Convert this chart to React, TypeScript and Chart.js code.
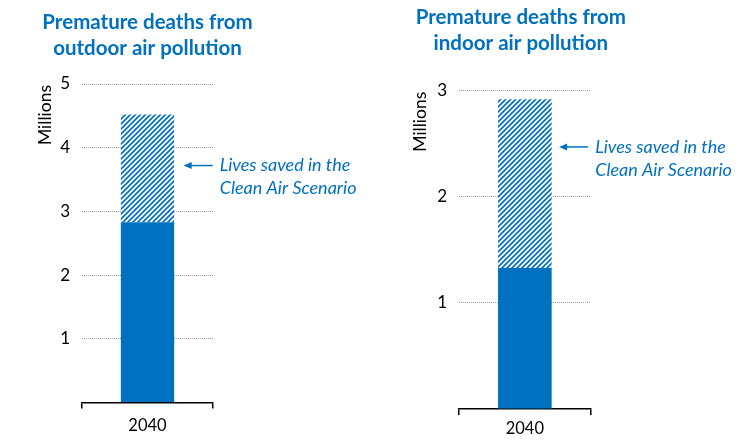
import React, { useEffect, useRef } from 'react';
import { Chart, registerables } from 'chart.js';

Chart.register(...registerables);

// ---- data ----
const categories = ['2040'];
const outdoorRemaining = [2.83];
const outdoorSaved = [1.69];
const indoorRemaining = [1.33];
const indoorSaved = [1.59];
const outdoorTitle = ['Premature deaths from', 'outdoor air pollution'];
const indoorTitle = ['Premature deaths from', 'indoor air pollution'];
const noteLines = ['Lives saved in the', 'Clean Air Scenario'];
const yAxisTitle = 'Millions';

const BLUE = '#0070C0';
const FONT = 'Lato, "Open Sans", sans-serif';

function makeHatch(): any {
  const c = document.createElement('canvas');
  c.width = 5;
  c.height = 5;
  const g = c.getContext('2d')!;
  g.fillStyle = '#ffffff';
  g.fillRect(0, 0, 5, 5);
  g.strokeStyle = BLUE;
  g.lineWidth = 1.7;
  g.beginPath();
  g.moveTo(-1, 6); g.lineTo(6, -1);
  g.moveTo(-1, 1); g.lineTo(1, -1);
  g.moveTo(4, 6); g.lineTo(6, 4);
  g.stroke();
  return g.createPattern(c, 'repeat');
}

type Panel = {
  title: string[];
  titleY: number[];
  titleDx: number;
  max: number;
  remaining: number[];
  saved: number[];
  noteValue: number;
  noteGap: number;
  millionsX: number;
  padding: { left: number; right: number; top: number; bottom: number };
  xPad: number;
};

const panels: Panel[] = [
  {
    title: outdoorTitle,
    titleY: [22, 48],
    titleDx: 0,
    max: 5,
    remaining: outdoorRemaining,
    saved: outdoorSaved,
    noteValue: 3.72,
    noteGap: 9.5,
    millionsX: 45,
    padding: { left: 42, right: 162, top: 84, bottom: 10.5 },
    xPad: 7,
  },
  {
    title: indoorTitle,
    titleY: [17, 43],
    titleDx: -4,
    max: 3,
    remaining: indoorRemaining,
    saved: indoorSaved,
    noteValue: 2.47,
    noteGap: 7.5,
    millionsX: 45,
    padding: { left: 44, right: 159.3, top: 90.7, bottom: 4 },
    xPad: 4,
  },
];

function PanelChart({ p }: { p: Panel }) {
  const ref = useRef<HTMLCanvasElement>(null);
  useEffect(() => {
    if (!ref.current) return;
    const hatch = makeHatch();
    const deco = {
      id: 'deco',
      afterDraw(chart: any) {
        const ctx = chart.ctx;
        const area = chart.chartArea;
        const ys = chart.scales.y;
        ctx.save();
        // title
        ctx.fillStyle = BLUE;
        ctx.font = `bold 20.5px ${FONT}`;
        ctx.textAlign = 'center';
        ctx.textBaseline = 'middle';
        const cx = (area.left + area.right) / 2 + p.titleDx;
        p.title.forEach((t, i) => ctx.fillText(t, cx, p.titleY[i]));
        // y axis title
        ctx.save();
        ctx.translate(p.millionsX, area.top + 1);
        ctx.rotate(-Math.PI / 2);
        ctx.fillStyle = '#000';
        ctx.font = `17.5px ${FONT}`;
        ctx.textAlign = 'right';
        ctx.textBaseline = 'middle';
        ctx.fillText(yAxisTitle, 0, 0);
        ctx.restore();
        // arrow + note
        const el = chart.getDatasetMeta(1).data[0];
        const barRight = el.x + el.width / 2;
        const ay = ys.getPixelForValue(p.noteValue);
        const tip = barRight + p.noteGap;
        const tail = tip + 29;
        ctx.strokeStyle = BLUE;
        ctx.fillStyle = BLUE;
        ctx.lineWidth = 1.5;
        ctx.beginPath();
        ctx.moveTo(tail, ay);
        ctx.lineTo(tip + 5, ay);
        ctx.stroke();
        ctx.beginPath();
        ctx.moveTo(tip, ay);
        ctx.lineTo(tip + 8, ay - 3.5);
        ctx.lineTo(tip + 8, ay + 3.5);
        ctx.closePath();
        ctx.fill();
        ctx.font = `italic 18px ${FONT}`;
        ctx.textAlign = 'left';
        ctx.textBaseline = 'middle';
        noteLines.forEach((t, i) => ctx.fillText(t, tail + 7, ay + i * 23));
        ctx.restore();
      },
    };
    const chart = new Chart(ref.current, {
      type: 'bar',
      data: {
        labels: categories,
        datasets: [
          { data: p.remaining, backgroundColor: BLUE, borderWidth: 0 },
          { data: p.saved, backgroundColor: hatch, borderWidth: 0 },
        ],
      },
      options: {
        animation: false,
        responsive: false,
        devicePixelRatio: 1,
        layout: { padding: p.padding },
        datasets: { bar: { categoryPercentage: 1, barPercentage: 0.407 } },
        plugins: { legend: { display: false }, tooltip: { enabled: false }, title: { display: false } },
        scales: {
          x: {
            stacked: true,
            offset: true,
            afterFit: (s: any) => { s.height = 30; },
            grid: { offset: true, drawOnChartArea: false, drawTicks: true, tickLength: 6, color: '#000', lineWidth: 1.5 },
            border: { display: true, color: '#000', width: 1.5 },
            ticks: { color: '#000', font: { family: FONT, size: 16.5 }, padding: p.xPad },
          },
          y: {
            stacked: true,
            min: 0,
            max: p.max,
            afterFit: (s: any) => { s.width = 40; },
            grid: {
              drawTicks: false,
              color: (c: any) => (c.tick && c.tick.value === 0 ? 'rgba(0,0,0,0)' : '#A0A0A0'),
              lineWidth: 1,
            },
            border: { display: false, dash: [1, 1] },
            ticks: {
              stepSize: 1,
              padding: 12,
              color: '#000',
              font: { family: FONT, size: 17 },
              callback: (v: any) => (v === 0 ? '' : String(v)),
            },
          },
        },
      },
      plugins: [deco],
    } as any);
    return () => chart.destroy();
  }, []);
  return <canvas ref={ref} width={375} height={443} style={{ width: 375, height: 443, display: 'block' }} />;
}

export default function App() {
  return (
    <div style={{ position: 'absolute', left: 0, top: 0, width: 750, height: 443, background: '#fff' }}>
      <div style={{ position: 'absolute', left: 0, top: 0 }}>
        <PanelChart p={panels[0]} />
      </div>
      <div style={{ position: 'absolute', left: 375, top: 0 }}>
        <PanelChart p={panels[1]} />
      </div>
    </div>
  );
}
